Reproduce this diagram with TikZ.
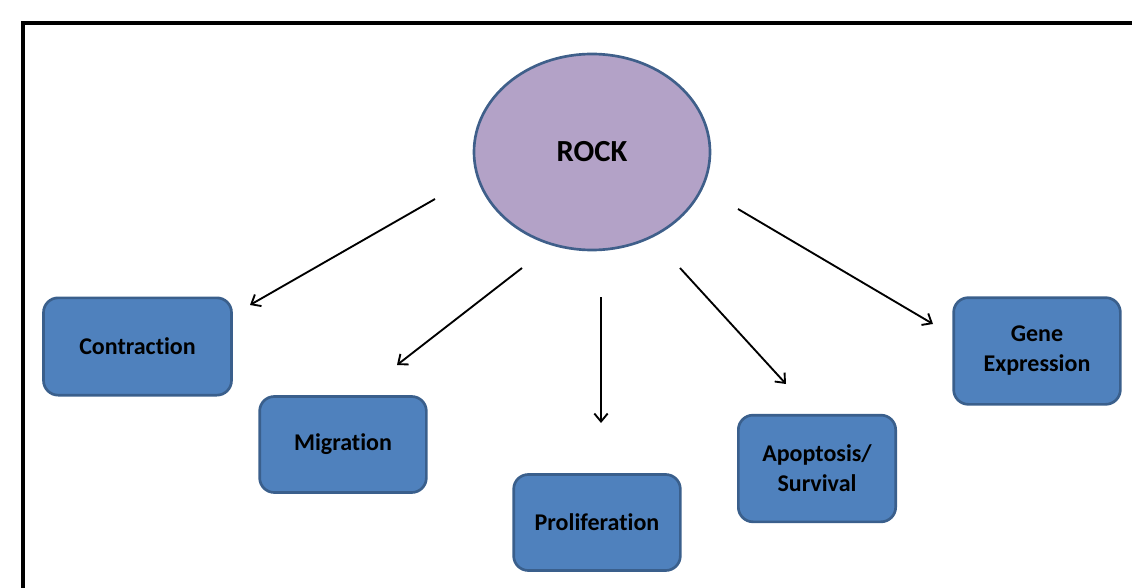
\documentclass[tikz,border=0pt]{standalone}
\usepackage{fontspec}
\setmainfont[Ligatures=NoCommon]{Carlito}
\usepackage{tikz}
\usetikzlibrary{shapes.geometric,arrows.meta}
\definecolor{boxfill}{HTML}{4F81BD}
\definecolor{boxline}{HTML}{3A5F8C}
\definecolor{rockfill}{HTML}{B3A2C7}
\definecolor{rockline}{HTML}{3F5F8A}
\tikzset{
  frame/.style={draw=black, line width=2.3pt},
  effect/.style={draw=boxline, fill=boxfill, line width=2pt, rounded corners=11pt,
    align=center, font=\bfseries\fontsize{18}{22.5}\selectfont, inner sep=0pt},
  hub/.style={ellipse, draw=rockline, fill=rockfill, line width=2pt, inner sep=0pt,
    minimum width=177pt, minimum height=147pt, font=\bfseries\fontsize{23}{27}\selectfont},
  arr/.style={draw=black, line width=1.4pt, -{Straight Barb[length=6pt,width=10pt,line width=1.4pt]}},
}

\begin{document}
\begin{tikzpicture}[x=0.75pt,y=-0.75pt]
  \useasboundingbox (0,0) rectangle (1132,588);
  \draw[frame] (23,600) -- (23,23) -- (1140,23);

  \node[hub] (rock) at (592,152) {ROCK};

  \node[effect, minimum width=141pt, minimum height=73pt] (contr) at (137.5,346.5) {Contraction};
  \node[effect, minimum width=125pt, minimum height=72pt] (migr) at (343,444.5) {Migration};
  \node[effect, minimum width=125pt, minimum height=72pt] (prolif) at (597,522.5) {Proliferation};
  \node[effect, minimum width=118pt, minimum height=80pt] (apop) at (817,468.5) {Apoptosis/\\Survival};
  \node[effect, minimum width=125pt, minimum height=80pt] (gene) at (1037,351) {Gene\\Expression};

  % arrows stop short of the boxes
  \coordinate (a1s) at (435,199);  \coordinate (a1e) at (250,305);
  \coordinate (a2s) at (522,268);  \coordinate (a2e) at (397,365);
  \coordinate (a3s) at (601,297);  \coordinate (a3e) at (601,423);
  \coordinate (a4s) at (680,268);  \coordinate (a4e) at (786,384);
  \coordinate (a5s) at (738,209);  \coordinate (a5e) at (933,324);

  \draw[arr] (a1s) -- (a1e);
  \draw[arr] (a2s) -- (a2e);
  \draw[arr] (a3s) -- (a3e);
  \draw[arr] (a4s) -- (a4e);
  \draw[arr] (a5s) -- (a5e);
\end{tikzpicture}
\end{document}
